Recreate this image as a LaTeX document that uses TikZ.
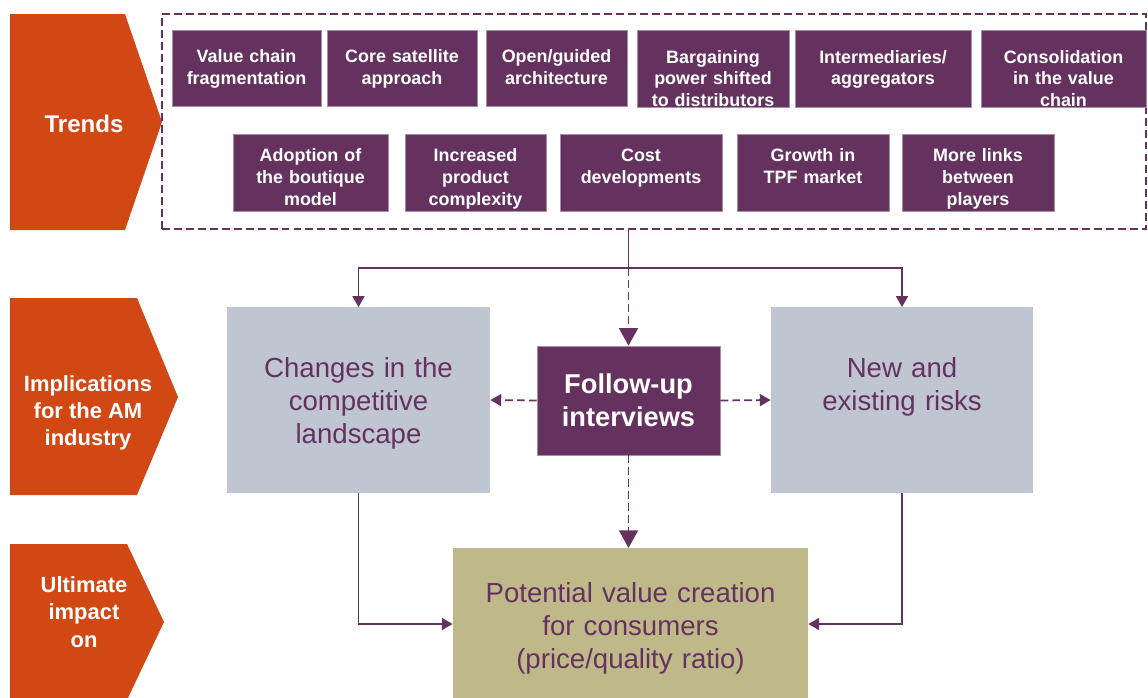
\documentclass[tikz,border=0pt]{standalone}
\usepackage{fontspec}
\setmainfont{Liberation Sans}
\usetikzlibrary{positioning, arrows.meta, calc}

\definecolor{rust}{RGB}{209,72,20}
\definecolor{plum}{RGB}{101,50,96}
\definecolor{mist}{RGB}{191,197,209}
\definecolor{sand}{RGB}{191,185,138}

\begin{document}
\begin{tikzpicture}[
		x=0.02cm, y=-0.02cm,
		chevron/.style={fill=rust},
		stage text/.style={text=white, font=\bfseries\fontsize{12.5}{15.2}\selectfont, align=center},
		trend/.style={rectangle, fill=plum, draw=plum!55!white, line width=0.4pt, text=white, font=\bfseries\fontsize{10.2}{12.3}\selectfont, align=center, text width=2.6cm, inner sep=0pt},
		rowone/.style={trend, text height=18.6pt, text depth=25.05pt},
		rowtwo/.style={trend, text height=15.8pt, text depth=27.85pt},
		trendframe/.style={draw=plum, line width=1.1pt, dash pattern=on 4.5pt off 2.3pt, minimum width=19.68cm, minimum height=4.3cm, inner sep=0pt},
		effect/.style={rectangle, fill=mist, text=plum, font=\fontsize{15.7}{18.7}\selectfont, align=center, text width=4.8cm, inner sep=0pt, text height=40.1pt, text depth=65.3pt},
		interview/.style={rectangle, fill=plum, draw=plum!55!white, line width=0.4pt, text=white, font=\bfseries\fontsize{15.5}{18.7}\selectfont, align=center, minimum width=3.66cm, minimum height=2.18cm, inner sep=0pt},
		outcome/.style={rectangle, fill=sand, text=plum, font=\fontsize{15.7}{18.7}\selectfont, align=center, text width=6.5cm, minimum width=7.1cm, inner sep=0pt, text height=31pt, text depth=55.2pt},
		link/.style={draw=plum, line width=1pt, -{Triangle[length=6.2pt, width=6.8pt]}},
		probe/.style={link, dash pattern=on 4.5pt off 2.3pt},
		bigprobe/.style={probe, -{Triangle[length=10pt, width=10.8pt]}}
		]
		
		\path[use as bounding box, clip] (0,0) rectangle (1148,697);
		
		% --- LEFT COLUMN: stages ---
		\fill[chevron] (10,14) -- (125,14) -- (162,122) -- (125,230) -- (10,230) -- cycle;
		\node[stage text, font=\bfseries\fontsize{13.7}{16}\selectfont] (trends) at (84,124) {Trends};
		
		\fill[chevron] (10,298) -- (137,298) -- (178,397) -- (137,495) -- (10,495) -- cycle;
		\node[stage text] (implic) at (88,413) {Implications\\for the AM\\industry};
		
		\fill[chevron] (10,544) -- (127,544) -- (164,622) -- (127,700) -- (10,700) -- cycle;
		\node[stage text, font=\bfseries\fontsize{12.5}{15.8}\selectfont] (ultimate) at (84,612) {Ultimate\\impact\\on};
		
		% --- TOP: Trends ---
		\node[trendframe] (frame) at (654,121.5) {};
		
		% first row
		\node[rowone, minimum width=2.98cm] (vcf) at (246.5,68.5) {Value chain\\fragmentation};
		\node[rowone, minimum width=3.00cm] (csa) at (402,68.5) {Core satellite\\approach};
		\node[rowone, minimum width=2.82cm] (oga) at (556.5,68.5) {Open/guided\\architecture};
		\node[rowone, minimum width=3.04cm] (bps) at (713,69) {Bargaining\\power shifted\\to distributors};
		\node[rowone, minimum width=3.52cm] (ia) at (883,69) {Intermediaries/\\aggregators};
		\node[rowone, minimum width=3.30cm] (cvc) at (1063.5,69) {Consolidation\\in the value\\chain};
		
		% second row
		\node[rowtwo, minimum width=3.10cm] (abm) at (310.5,172.5) {Adoption of\\the boutique\\model};
		\node[rowtwo, minimum width=2.82cm] (ipc) at (475.5,172.5) {Increased\\product\\complexity};
		\node[rowtwo, minimum width=3.24cm] (cd) at (641,172.5) {Cost\\developments};
		\node[rowtwo, minimum width=3.04cm] (gtm) at (813,172.5) {Growth in\\TPF market};
		\node[rowtwo, minimum width=3.04cm] (ml) at (978,172.5) {More links\\between\\players};
		
		% --- MIDDLE: Implications ---
		\node[effect, minimum width=5.26cm] (changes) at (358.5,400) {Changes in the\\competitive\\landscape};
		\node[interview] (follow) at (628.5,400.5) {Follow-up\\interviews};
		\node[effect, minimum width=5.24cm] (risks) at (902,400) {New and\\existing risks};
		
		% --- BOTTOM: Ultimate impact ---
		\node[outcome] (value) at (630.5,624) {Potential value creation\\for consumers\\(price/quality ratio)};
		
		% --- Connectors ---
		\coordinate (fork) at (follow.north |- 0,268);
		\draw[plum, line width=1pt] (frame.south -| fork) -- (fork);
		\draw[link] (fork) -| (changes.north);
		\draw[link] (fork) -| (risks.north);
		\draw[bigprobe] (fork) -- (follow.north);
		\draw[probe] (follow.west) -- (changes.east);
		\draw[probe] (follow.east) -- (risks.west);
		\draw[bigprobe] (follow.south) -- (follow.south |- value.north);
		\draw[link] (changes.south) |- (value.west);
		\draw[link] (risks.south) |- (value.east);
		
	\end{tikzpicture}
\end{document}
